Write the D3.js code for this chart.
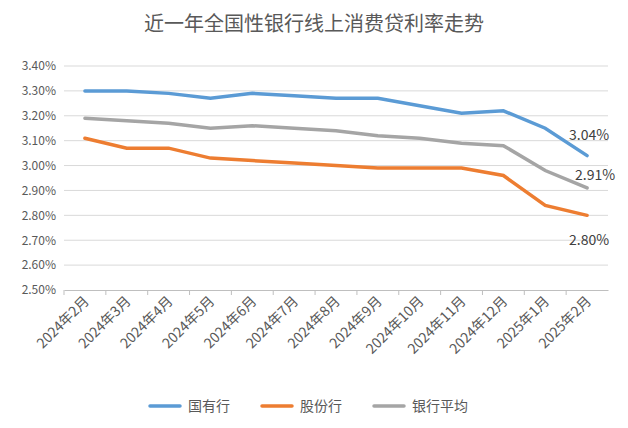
<!DOCTYPE html>
<html><head><meta charset="utf-8">
<script src="https://cdn.jsdelivr.net/npm/d3@7"></script>
<style>body{margin:0;background:#fff;font-family:"Noto Sans CJK SC","Noto Sans",sans-serif;}</style>
</head><body><div id="chart"></div>
<script>
var months = ["2024年2月","2024年3月","2024年4月","2024年5月","2024年6月","2024年7月","2024年8月","2024年9月","2024年10月","2024年11月","2024年12月","2025年1月","2025年2月"];
var stateBanks = [3.30,3.30,3.29,3.27,3.29,3.28,3.27,3.27,3.24,3.21,3.22,3.15,3.04];
var jointBanks = [3.11,3.07,3.07,3.03,3.02,3.01,3.00,2.99,2.99,2.99,2.96,2.84,2.80];
var avgBanks = [3.19,3.18,3.17,3.15,3.16,3.15,3.14,3.12,3.11,3.09,3.08,2.98,2.91];
var yTicks = [2.5,2.6,2.7,2.8,2.9,3.0,3.1,3.2,3.3,3.4];

var width = 628, height = 428;
var margin = { top: 66, right: 20, bottom: 138, left: 64 };

var series = [
    { name: "国有行", values: stateBanks, color: "#5b9bd5" },
    { name: "股份行", values: jointBanks, color: "#ed7d31" },
    { name: "银行平均", values: avgBanks, color: "#a5a5a5" }
];

var svg = d3.select("#chart").append("svg")
    .attr("width", width).attr("height", height);

svg.append("text")
    .attr("x", width / 2).attr("y", 31)
    .attr("text-anchor", "middle")
    .style("font-size", "20px").style("fill", "#595959")
    .text("近一年全国性银行线上消费贷利率走势");

var x = d3.scaleBand().domain(months).range([margin.left, width - margin.right]);
var y = d3.scaleLinear().domain([2.5, 3.4]).range([height - margin.bottom, margin.top]);

// gridlines
svg.append("g").selectAll("line").data(yTicks.slice(1)).enter().append("line")
    .attr("x1", margin.left).attr("x2", width - margin.right)
    .attr("y1", d => y(d)).attr("y2", d => y(d))
    .style("stroke", "#d9d9d9");

var yAxis = svg.append("g")
    .attr("transform", `translate(${margin.left},0)`)
    .call(d3.axisLeft(y).tickValues(yTicks).tickFormat(d => d.toFixed(2) + "%").tickSize(0).tickPadding(8));
yAxis.select(".domain").remove();
yAxis.selectAll("text").style("font-size", "12px").style("fill", "#595959").style("font-family", "Noto Sans CJK SC");

var xAxis = svg.append("g")
    .attr("transform", `translate(0,${height - margin.bottom})`)
    .call(d3.axisBottom(x).tickSize(5).tickSizeOuter(0));
xAxis.select(".domain").style("stroke", "#bfbfbf");
xAxis.selectAll(".tick line").attr("transform", `translate(${-x.bandwidth() / 2},0)`).style("stroke", "#bfbfbf");
xAxis.selectAll("text")
    .attr("y", 0).attr("x", 0).attr("dy", 0)
    .attr("transform", "translate(5,12) rotate(-45)")
    .style("text-anchor", "end")
    .style("font-size", "14px").style("fill", "#595959").style("font-family", "Noto Sans CJK SC");

var line = d3.line()
    .x((d, i) => x(months[i]) + x.bandwidth() / 2)
    .y(d => y(d));

series.forEach(function (s) {
    svg.append("path").datum(s.values)
        .attr("d", line)
        .style("fill", "none").style("stroke", s.color)
        .style("stroke-width", 3.5).style("stroke-linecap", "round");
});

// end labels
var last = months.length - 1;
var labels = [
    { v: stateBanks[last], dx: -18, dy: -16 },
    { v: avgBanks[last], dx: -12, dy: -8 },
    { v: jointBanks[last], dx: -18, dy: 30 }
];
labels.forEach(function (l) {
    svg.append("text")
        .attr("x", x(months[last]) + x.bandwidth() / 2 + l.dx)
        .attr("y", y(l.v) + l.dy)
        .style("font-size", "14px").style("fill", "#404040")
        .text(l.v.toFixed(2) + "%");
});

// legend
var legend = svg.append("g").attr("transform", "translate(150,406)");
var offsets = [0, 112, 224];
series.forEach(function (s, i) {
    var g = legend.append("g").attr("transform", `translate(${offsets[i]},0)`);
    g.append("line").attr("x1", 0).attr("x2", 30)
        .style("stroke", s.color).style("stroke-width", 3.5).style("stroke-linecap", "round");
    g.append("text").attr("x", 38).attr("y", 5)
        .style("font-size", "14px").style("fill", "#595959")
        .text(s.name);
});
</script></body></html>
